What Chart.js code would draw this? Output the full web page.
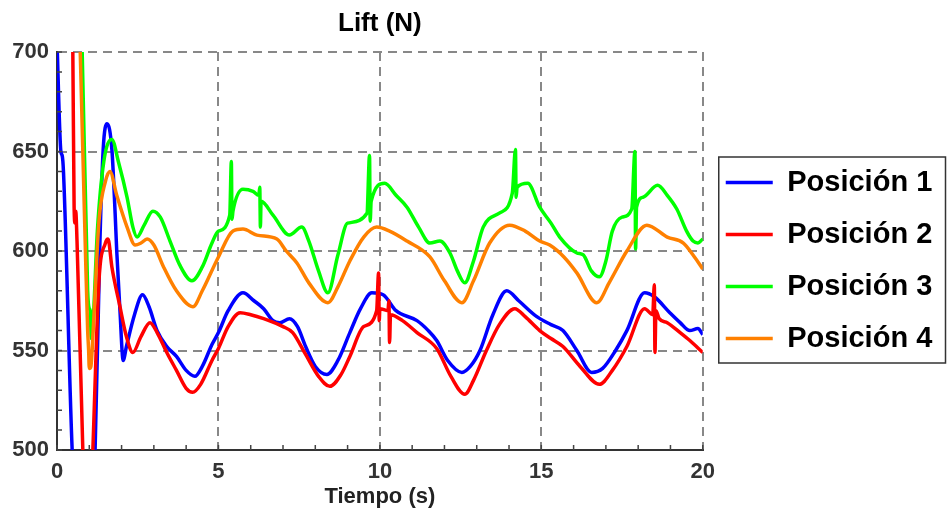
<!DOCTYPE html>
<html>
<head>
<meta charset="utf-8">
<script src="https://cdn.jsdelivr.net/npm/chart.js@4.4.1/dist/chart.umd.min.js"></script>
<style>
  body { margin: 0; background: #fff; }
</style>
</head>
<body>
<canvas id="lift-chart" width="947" height="510"></canvas>
<script>
// data: [tiempo (s), lift (N)]
const posicion1 = [[0,705],[0.12,650],[0.16,648],[0.2,640],[0.47,500],[0.7,440],[1.0,450],[1.18,500],[1.33,605],[1.43,651],[1.55,664],[1.7,651],[1.8,619],[1.85,600],[1.95,570],[2.05,545],[2.15,552],[2.4,568],[2.65,578],[2.85,572],[3.1,560],[3.4,552],[3.7,547],[4.0,540],[4.27,537],[4.5,542],[4.8,553],[5.0,559],[5.3,570],[5.76,579],[6.1,575],[6.4,571],[6.69,565],[6.9,564],[7.2,566],[7.45,562],[7.7,552],[8.0,542],[8.36,538],[8.7,545],[9.07,559],[9.4,571],[9.75,579],[10.1,578],[10.5,570],[11.15,565],[11.5,560],[11.76,555],[12.1,545],[12.54,539],[12.8,542],[13.1,550],[13.5,568],[13.93,580],[14.3,575],[14.86,567],[15.3,563],[15.67,560],[16.1,550],[16.56,539],[16.9,541],[17.3,550],[17.65,560],[18.2,579],[18.5,577],[18.98,569],[19.3,564],[19.6,560],[19.85,561],[20,558]];

const posicion2 = [[0.4,760],[0.49,700],[0.53,622],[0.56,614],[0.58,620],[0.62,605],[0.8,500],[0.95,430],[1.11,500],[1.3,585],[1.5,604],[1.58,606],[1.7,592],[1.95,572],[2.15,557],[2.35,549],[2.6,557],[2.88,564],[3.1,559],[3.4,549],[3.7,540],[4.0,531],[4.2,529],[4.45,533],[4.8,545],[5.0,551],[5.3,562],[5.67,569],[6.0,568],[6.4,566],[7.0,562],[7.3,559],[7.7,548],[8.1,537],[8.45,532],[8.8,538],[9.07,547],[9.5,562],[9.9,570],[9.96,589],[9.98,565],[10.0,571],[10.25,570],[10.28,575],[10.3,554],[10.33,568],[10.7,565],[11.15,559],[11.76,551],[12.2,537],[12.63,528],[12.9,535],[13.3,550],[13.7,563],[14.18,571],[14.5,567],[14.95,560],[15.3,556],[15.67,552],[16.2,542],[16.8,533],[17.2,540],[17.65,552],[18.2,571],[18.45,568],[18.5,583],[18.52,549],[18.55,570],[18.65,566],[18.9,564],[19.3,559],[19.6,555],[20,549]];

const posicion3 = [[0.72,720],[0.78,700],[0.95,580],[1.0,571],[1.03,570],[1.06,556],[1.12,565],[1.25,610],[1.45,645],[1.7,656],[1.9,645],[2.17,627],[2.35,612],[2.48,607],[2.7,613],[2.97,620],[3.2,617],[3.5,605],[3.8,593],[4.18,585],[4.5,592],[4.8,604],[5.0,610],[5.35,618],[5.4,645],[5.42,616],[5.45,620],[5.76,631],[6.07,630],[6.25,628],[6.28,632],[6.3,612],[6.32,625],[6.69,618],[7.2,608],[7.58,612],[7.8,605],[8.1,590],[8.39,579],[8.7,598],[9.0,614],[9.6,619],[9.68,648],[9.7,615],[9.73,625],[10.15,634],[10.5,628],[10.84,622],[11.2,612],[11.55,604],[11.86,605],[12.17,599],[12.4,590],[12.63,584],[12.9,595],[13.2,612],[13.7,619],[14.1,629],[14.2,651],[14.22,627],[14.25,632],[14.58,634],[14.95,622],[15.3,614],[15.57,607],[16.1,599],[16.3,598],[16.55,590],[16.8,587],[17.0,595],[17.2,610],[17.5,617],[17.8,621],[17.9,650],[17.92,601],[17.95,622],[18.15,627],[18.6,633],[18.9,628],[19.2,621],[19.5,610],[19.7,605],[19.85,604],[20,606]];

const posicion4 = [[0.65,740],[0.72,700],[0.88,600],[0.95,560],[0.98,550],[1.0,541],[1.05,542],[1.12,560],[1.3,615],[1.5,635],[1.64,640],[1.85,628],[2.17,612],[2.42,603],[2.6,604],[2.79,606],[3.0,603],[3.3,592],[3.7,580],[4.21,572],[4.5,580],[5.0,597],[5.45,610],[5.76,611],[6.19,608],[6.81,606],[7.1,600],[7.43,594],[7.8,584],[8.39,574],[8.7,582],[9.07,595],[9.5,607],[9.9,612],[10.3,610],[10.84,605],[11.55,597],[12.0,585],[12.54,574],[12.9,585],[13.4,604],[14.02,613],[14.5,610],[14.95,605],[15.26,603],[15.7,597],[16.1,589],[16.72,574],[17.1,584],[17.65,600],[18.27,613],[18.9,607],[19.4,604],[19.7,598],[20,591]];

const seriesNames = ["Posición 1", "Posición 2", "Posición 3", "Posición 4"];
const seriesColors = ["#0000ff", "#ff0000", "#00ff00", "#ff8000"];
const allSeries = [posicion1, posicion2, posicion3, posicion4];

const xRange = [0, 20];
const yRange = [500, 700];

const fontFamily = "'Liberation Sans', Arial, sans-serif";

// small inward ticks every 1 s and every 10 N, plus the box round the legend
const extrasPlugin = {
  id: "extras",
  afterDraw(chart) {
    const ctx = chart.ctx;
    const xs = chart.scales.x;
    const ys = chart.scales.y;
    const area = chart.chartArea;
    ctx.save();
    ctx.strokeStyle = "#444";
    ctx.lineWidth = 1.5;
    ctx.beginPath();
    for (let t = xRange[0]; t <= xRange[1]; t += 1) {
      const px = xs.getPixelForValue(t);
      ctx.moveTo(px, area.bottom);
      ctx.lineTo(px, area.bottom - 5);
    }
    for (let v = yRange[0]; v <= yRange[1]; v += 10) {
      const py = ys.getPixelForValue(v);
      ctx.moveTo(area.left, py);
      ctx.lineTo(area.left + 5, py);
    }
    ctx.stroke();

    const boxes = chart.legend.legendHitBoxes;
    if (boxes && boxes.length) {
      const first = boxes[0];
      const last = boxes[boxes.length - 1];
      const left = first.left - 7;
      const top = first.top - 11;
      const bottom = last.top + last.height + 10;
      ctx.strokeStyle = "#333";
      ctx.lineWidth = 1.5;
      ctx.strokeRect(left, top, chart.width - 1.5 - left, bottom - top);
    }
    ctx.restore();
  },
};

const ctx = document.getElementById("lift-chart");

new Chart(ctx, {
  type: "line",
  data: {
    datasets: allSeries.map((s, i) => ({
      label: seriesNames[i],
      data: s.map((p) => ({ x: p[0], y: p[1] })),
      borderColor: seriesColors[i],
      backgroundColor: seriesColors[i],
      borderWidth: 3.5,
      pointRadius: 0,
      cubicInterpolationMode: "monotone",
      order: allSeries.length - i,
    })),
  },
  options: {
    responsive: false,
    animation: false,
    layout: {
      padding: { top: 11, right: 10, bottom: 0, left: 0 },
    },
    plugins: {
      title: {
        display: true,
        text: "Lift (N)",
        color: "#000",
        fullSize: false,
        font: { family: fontFamily, size: 26, weight: "bold", lineHeight: 1 },
        padding: { top: 0, bottom: 15 },
      },
      legend: {
        position: "right",
        labels: {
          usePointStyle: true,
          pointStyle: "line",
          pointStyleWidth: 47,
          padding: 23,
          color: "#000",
          font: { family: fontFamily, size: 29, weight: "bold" },
          sort: (a, b) => a.datasetIndex - b.datasetIndex,
        },
      },
      tooltip: { enabled: false },
    },
    scales: {
      x: {
        type: "linear",
        min: xRange[0],
        max: xRange[1],
        afterFit(scale) {
          scale.height = 60;
        },
        ticks: {
          stepSize: 5,
          color: "#333",
          padding: 9,
          font: { family: fontFamily, size: 22, weight: "bold" },
        },
        grid: {
          color: "#888",
          lineWidth: 2,
          drawTicks: false,
        },
        border: { display: true, color: "#333", width: 2, dash: [9, 6] },
        title: {
          display: true,
          text: "Tiempo (s)",
          color: "#222",
          font: { family: fontFamily, size: 22, weight: "bold" },
          padding: { top: 0, bottom: 0 },
        },
      },
      y: {
        min: yRange[0],
        max: yRange[1],
        afterFit(scale) {
          scale.width = 57;
        },
        ticks: {
          stepSize: 50,
          color: "#333",
          padding: 8,
          font: { family: fontFamily, size: 22, weight: "bold" },
        },
        grid: {
          color: "#888",
          lineWidth: 2,
          drawTicks: false,
        },
        border: { display: true, color: "#333", width: 2, dash: [9, 6] },
      },
    },
  },
  plugins: [extrasPlugin],
});
</script>
</body>
</html>
